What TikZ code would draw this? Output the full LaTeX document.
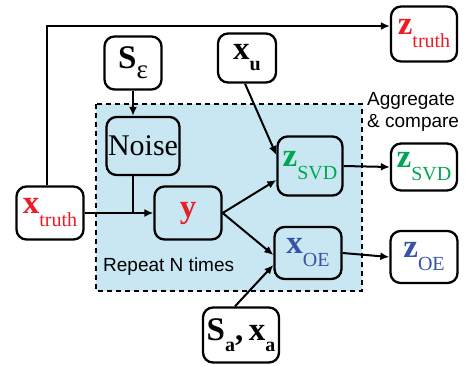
\documentclass[tikz,border=0pt]{standalone}
\usepackage{fontspec}
\setmainfont{Liberation Serif}
\setsansfont{Liberation Sans}
\usetikzlibrary{arrows.meta,calc}
\definecolor{vred}{RGB}{237,28,36}
\definecolor{vgreen}{RGB}{0,166,81}
\definecolor{vblue}{RGB}{57,83,164}
\definecolor{loopfill}{RGB}{200,231,242}
\newcommand{\sbs}[1]{\raisebox{-13pt}{\fontsize{20}{20}\selectfont #1}}
\newcommand{\bsb}[1]{\raisebox{-11pt}{\fontsize{20}{20}\selectfont\bfseries #1}}
\newcommand{\bigsym}[1]{\textbf{#1}}
\tikzset{
  box/.style={draw, line width=2.3pt, rounded corners=10pt, inner sep=0pt,
    align=center, font=\fontsize{33}{33}\selectfont, fill=white},
  inbox/.style={box, fill=loopfill},
  conn/.style={line width=2pt, -{Latex[length=9pt,width=8pt]}},
  plain/.style={line width=2pt},
  note/.style={font=\sffamily\fontsize{19}{22}\selectfont, inner sep=0pt}
}
\begin{document}
\begin{tikzpicture}[x=1pt,y=-1pt]
\useasboundingbox (0,0) rectangle (468,365);
% repeated loop region
\draw[fill=loopfill, line width=2.3pt, dash pattern=on 5pt off 4pt] (96,104) rectangle (362,291);
\node[note, anchor=north west, align=left] (rep) at (103,258) {Repeat N times};
\node[note, anchor=north west, align=left] (agg) at (367,92) {Aggregate\\\& compare};

% nodes
\node[box, minimum width=67pt, minimum height=53pt] (xt) at (50,213)
  {\color{vred}\bigsym{x}\sbs{truth}};
\node[box, minimum width=57pt, minimum height=53pt] (se) at (133,63)
  {\bigsym{S}\raisebox{-10pt}{\fontsize{27}{27}\selectfont ε}};
\node[inbox, minimum width=73pt, minimum height=58pt, font=\fontsize{30}{30}\selectfont] (noise) at (143,146) {Noise};
\node[inbox, minimum width=67pt, minimum height=53pt] (y) at (188,213)
  {\color{vred}\bigsym{y}};
\node[box, minimum width=58pt, minimum height=49pt] (xu) at (247,58)
  {\bigsym{x}\bsb{u}};
\node[box, minimum width=66pt, minimum height=55pt] (zt) at (424,34)
  {\color{vred}\bigsym{z}\sbs{truth}};
\node[inbox, minimum width=65pt, minimum height=59pt] (zs) at (310,166)
  {\color{vgreen}\bigsym{z}\sbs{SVD}};
\node[box, minimum width=66pt, minimum height=47pt] (zs2) at (424,167)
  {\color{vgreen}\bigsym{z}\sbs{SVD}};
\node[inbox, minimum width=67pt, minimum height=52pt] (xo) at (308,253)
  {\color{vblue}\bigsym{x}\sbs{OE}};
\node[box, minimum width=67pt, minimum height=52pt] (zo) at (424,257)
  {\color{vblue}\bigsym{z}\sbs{OE}};
\node[box, minimum width=76pt, minimum height=55pt] (sa) at (241,335)
  {\bigsym{S}\bsb{a}\bigsym{,}\,\bigsym{x}\bsb{a}};

% connectors
\coordinate (top) at ($(zt.west)+(0,-8)$);
\draw[conn] ($(xt.north)+(-3,0)$) |- (top);
\draw[conn] (se.south) -- (se.south |- noise.north);
\coordinate (join) at (se.south |- y.west);
\draw[plain] (se.south |- noise.south) -- (join);
\draw[conn] (xt.east) -- (y.west);
\draw[conn] (y.east) -- ($(zs.west)+(0,14)$);
\draw[conn] (y.east) -- ($(xo.west)+(0,2)$);
\draw[conn] ($(xu.south)+(-2,0)$) -- ($(zs.west)+(0,-11)$);
\draw[conn] ($(sa.north)+(-6,0)$) -- ($(xo.west)+(0,12)$);
\draw[conn] (zs.east) -- (zs2.west);
\draw[conn] (xo.east) -- (zo.west);
\end{tikzpicture}
\end{document}
